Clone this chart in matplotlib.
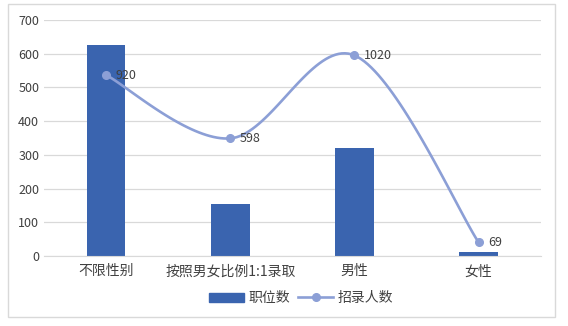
import matplotlib
matplotlib.use('Agg')
import matplotlib.pyplot as plt
import matplotlib.patches as patches
import numpy as np

plt.rcParams['font.family'] = ['Noto Sans CJK SC', 'DejaVu Sans']

categories = ['不限性别', '按照男女比例1:1录取', '男性', '女性']
positions = [626, 155, 321, 12]
recruits = [920, 598, 1020, 69]

barColor = '#3A64AF'
lineColor = '#8C9FD6'


def smooth(xs, ys, n=40):
	# Catmull-Rom style bezier like spreadsheet smoothed lines
	xs = np.asarray(xs, float)
	ys = np.asarray(ys, float)
	px = np.concatenate([[xs[0]], xs, [xs[-1]]])
	py = np.concatenate([[ys[0]], ys, [ys[-1]]])
	outX, outY = [], []
	t = np.linspace(0, 1, n)
	for i in range(1, len(px) - 2):
		p0 = np.array([px[i], py[i]])
		p3 = np.array([px[i + 1], py[i + 1]])
		p1 = p0 + (np.array([px[i + 1], py[i + 1]]) - np.array([px[i - 1], py[i - 1]])) / 6.0
		p2 = p3 - (np.array([px[i + 2], py[i + 2]]) - np.array([px[i], py[i]])) / 6.0
		pts = ((1 - t)[:, None] ** 3 * p0 + 3 * ((1 - t) ** 2 * t)[:, None] * p1
			+ 3 * ((1 - t) * t ** 2)[:, None] * p2 + (t ** 3)[:, None] * p3)
		outX.extend(pts[:, 0])
		outY.extend(pts[:, 1])
	return outX, outY


fig = plt.figure(figsize=(5.68, 3.26), dpi=100)
ax = fig.add_axes([0.0775, 0.2147, 0.8745, 0.724])
x = np.arange(len(categories))

ax.bar(x, positions, width=0.31, color=barColor, label='职位数', zorder=2)
ax.set_ylim(0, 700)
ax.set_xlim(-0.5, len(categories) - 0.5)
ax.set_yticks(range(0, 701, 100))
ax.grid(axis='y', color='#D9D9D9', lw=0.9, zorder=0)
ax.set_axisbelow(True)
for s in ['top', 'right', 'left']:
	ax.spines[s].set_visible(False)
ax.spines['bottom'].set_color('#D9D9D9')
ax.tick_params(axis='both', length=0, colors='#404040', labelsize=9)
ax.tick_params(axis='x', labelsize=10, pad=6)
ax.set_xticks(x)
ax.set_xticklabels(categories)

ax2 = ax.twinx()
ax2.set_ylim(0, 1200)
ax2.axis('off')
sx, sy = smooth(x, recruits)
ax2.plot(sx, sy, color=lineColor, lw=1.9, zorder=3)
ax2.plot(x, recruits, 'o', color=lineColor, ms=5.5, zorder=4)
for xi, v in zip(x, recruits):
	ax2.annotate(str(v), (xi, v), xytext=(7, 0), textcoords='offset points',
		va='center', ha='left', fontsize=9, color='#404040')

handles = [patches.Patch(color=barColor),
	plt.Line2D([], [], color=lineColor, lw=1.9, marker='o', ms=5.5)]
fig.legend(handles, ['职位数', '招录人数'], loc='center', bbox_to_anchor=(0.53, 0.085),
	ncol=2, frameon=False, fontsize=10, handlelength=2.5, columnspacing=0.6,
	handletextpad=0.3, labelcolor='#404040')

fig.patches.append(patches.Rectangle((8 / 568, 9 / 326), 547 / 568, 313 / 326,
	transform=fig.transFigure, fill=False, edgecolor='#D9D9D9', lw=1))

fig.savefig('out.png', dpi=100, facecolor='white')
